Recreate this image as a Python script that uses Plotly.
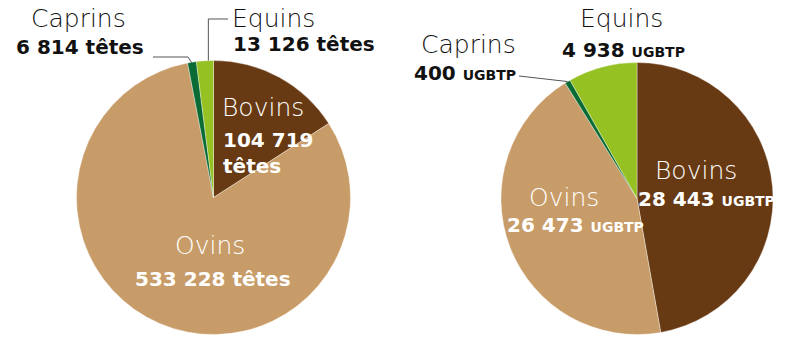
import math
import plotly.graph_objects as go

# ---- data ----
categories = ["Bovins", "Ovins", "Caprins", "Equins"]
tetes = [104719, 533228, 6814, 13126]
ugbtp = [28443, 26473, 400, 4938]
colors = ["#683A13", "#C89C68", "#0B6B35", "#95C122"]

W, H = 800, 346

def fmt(v):
    return f"{v:,}".replace(",", " ")

# pie geometry in pixels (center x, center y from top, radius)
left_pie = (213.5, 197.5, 137)
right_pie = (637, 198.5, 136)

def domain(c):
    cx, cy, r = c
    return dict(x=[(cx - r) / W, (cx + r) / W],
                y=[(H - cy - r) / H, (H - cy + r) / H])

def px(x):
    return x / W

def py(y):
    return (H - y) / H

fig = go.Figure()
for vals, geo in ((tetes, left_pie), (ugbtp, right_pie)):
    fig.add_trace(go.Pie(
        labels=categories, values=vals, sort=False, direction="clockwise",
        rotation=0, textinfo="none", hoverinfo="label+value",
        marker=dict(colors=colors, line=dict(color="rgba(255,255,255,0.6)", width=0.6)),
        domain=domain(geo), showlegend=False,
    ))

def edge_point(vals, idx, geo, frac=0.5):
    total = sum(vals)
    start = sum(vals[:idx]) / total
    f = start + frac * vals[idx] / total
    ang = 2 * math.pi * f
    cx, cy, r = geo
    return cx + r * math.sin(ang), cy - r * math.cos(ang)

NAME_FONT = dict(family="DejaVu Sans", size=25, weight=200)
NUM_FONT = dict(family="DejaVu Sans", size=20, weight=700)

annotations = []

def add(text, x, y, color, font, xanchor="center"):
    f = dict(font)
    f["color"] = color
    annotations.append(dict(text=text, x=px(x), y=py(y), xref="paper", yref="paper",
                            xanchor=xanchor, yanchor="middle", showarrow=False,
                            align=xanchor if xanchor != "center" else "center", font=f))

unit = "<span style='font-size:14px'>UGBTP</span>"

# left pie labels
add(categories[2], 78, 18, "#111111", NAME_FONT)
add(f"{fmt(tetes[2])} têtes", 80, 47, "#111111", NUM_FONT)
add(categories[3], 230, 18, "#111111", NAME_FONT, "left")
add(f"{fmt(tetes[3])} têtes", 231, 44, "#111111", NUM_FONT, "left")
add(categories[0], 220, 107, "white", NAME_FONT, "left")
add(f"{fmt(tetes[0])}<br>têtes", 221, 153, "white", NUM_FONT, "left")
add(categories[1], 210, 245, "white", NAME_FONT)
add(f"{fmt(tetes[1])} têtes", 213, 279, "white", NUM_FONT)

# right pie labels
add(categories[3], 621, 19, "#111111", NAME_FONT)
add(f"{fmt(ugbtp[3])} {unit}", 623, 50, "#111111", NUM_FONT)
add(categories[2], 468, 45, "#111111", NAME_FONT)
add(f"{fmt(ugbtp[2])} {unit}", 465, 73, "#111111", NUM_FONT)
add(categories[0], 696, 170, "white", NAME_FONT)
add(f"{fmt(ugbtp[0])} {unit}", 706, 199, "white", NUM_FONT)
add(categories[1], 564, 197, "white", NAME_FONT)
add(f"{fmt(ugbtp[1])} {unit}", 575, 225, "white", NUM_FONT)

# leader lines
shapes = []
def path(points, color="#555555"):
    d = "M " + " L ".join(f"{px(x):.5f},{py(y):.5f}" for x, y in points)
    shapes.append(dict(type="path", path=d, xref="paper", yref="paper",
                       line=dict(color=color, width=1)))

# left caprins
ex, ey = edge_point(tetes, 2, left_pie)
path([(153, 57), (ex - 4, 57), (ex, ey + 1)])
# left equins
ex, ey = edge_point(tetes, 3, left_pie, 0.7)
path([(228, 19), (ex, 19), (ex, ey)])
# right caprins
ex, ey = edge_point(ugbtp, 2, right_pie)
path([(519, 76), (ex, ey)])

fig.update_layout(
    width=W, height=H, margin=dict(l=0, r=0, t=0, b=0),
    paper_bgcolor="white", plot_bgcolor="white",
    annotations=annotations, shapes=shapes,
)
fig.write_html("out.html")
